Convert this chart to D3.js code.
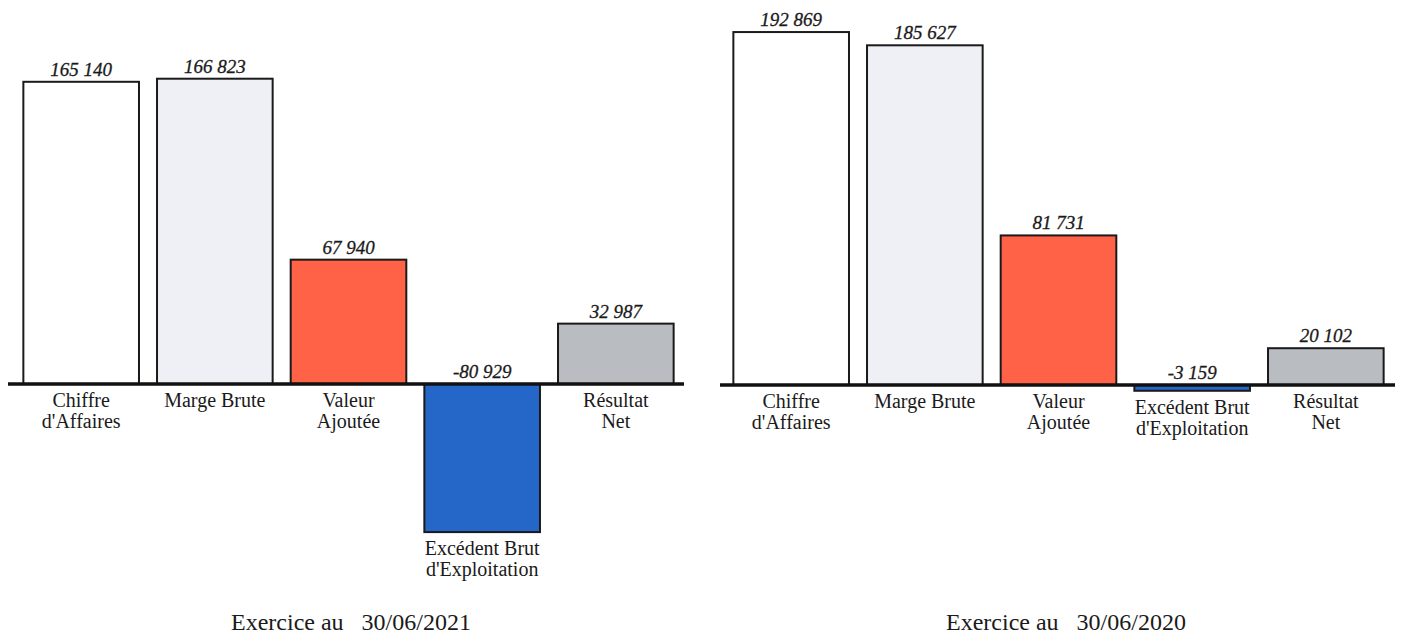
<!DOCTYPE html>
<html>
<head>
<meta charset="utf-8">
<script src="https://cdn.jsdelivr.net/npm/d3@7"></script>
<style>
  body { margin: 0; background: #fff; }
  text { font-family: "Liberation Serif", "Times New Roman", serif; fill: #1a1a1a; }
</style>
</head>
<body>
<script>
// categories (two lines each)
var categories = [
  ["Chiffre", "d'Affaires"],
  ["Marge Brute"],
  ["Valeur", "Ajoutée"],
  ["Excédent Brut", "d'Exploitation"],
  ["Résultat", "Net"]
];
var values2021 = [165140, 166823, 67940, -80929, 32987];
var values2020 = [192869, 185627, 81731, -3159, 20102];
var valueLabels2021 = ["165 140", "166 823", "67 940", "-80 929", "32 987"];
var valueLabels2020 = ["192 869", "185 627", "81 731", "-3 159", "20 102"];
var barColors = ["#ffffff", "#eef0f6", "#ff6247", "#2567c9", "#b9bcc1"];
var titles = ["Exercice au   30/06/2021", "Exercice au   30/06/2020"];

var width = 1401, height = 637;

var svg = d3.select("body").append("svg")
    .attr("width", width)
    .attr("height", height);

// same vertical scale for both panels
var y = d3.scaleLinear()
    .domain([-100000, 200000])
    .range([567, 18]);

function drawPanel(values, labels, xRange, axisExt, dy, title, titleX) {
  var g = svg.append("g")
      .attr("transform", "translate(0," + dy + ")");

  var x = d3.scaleBand()
      .domain(d3.range(categories.length))
      .range(xRange)
      .paddingInner(0.135)
      .paddingOuter(0.085);

  // bars
  g.selectAll("rect.bar")
    .data(values)
    .enter().append("rect")
      .attr("class", "bar")
      .attr("x", function(d, i) { return x(i); })
      .attr("y", function(d) { return y(Math.max(d, 0)); })
      .attr("width", x.bandwidth())
      .attr("height", function(d) { return Math.abs(y(d) - y(0)); })
      .attr("fill", function(d, i) { return barColors[i]; })
      .attr("stroke", "#1a1a1a")
      .attr("stroke-width", 2);

  // zero line
  g.append("line")
      .attr("x1", axisExt[0])
      .attr("x2", axisExt[1])
      .attr("y1", y(0))
      .attr("y2", y(0))
      .attr("stroke", "#111")
      .attr("stroke-width", 3.5);

  // values above bars
  g.selectAll("text.val")
    .data(values)
    .enter().append("text")
      .attr("class", "val")
      .attr("x", function(d, i) { return x(i) + x.bandwidth() / 2; })
      .attr("y", function(d) { return y(Math.max(d, 0)) - 6; })
      .attr("text-anchor", "middle")
      .style("font-size", "19px")
      .style("font-style", "italic")
      .style("stroke", "#1a1a1a")
      .style("stroke-width", 0.3)
      .text(function(d, i) { return labels[i]; });

  // category labels under bar / baseline
  var cat = g.selectAll("text.cat")
    .data(values)
    .enter().append("text")
      .attr("class", "cat")
      .attr("text-anchor", "middle")
      .attr("y", function(d) { return y(Math.min(d, 0)) + 23; })
      .style("font-size", "20px");

  cat.selectAll("tspan")
    .data(function(d, i) {
      return categories[i].map(function(s) { return {s: s, cx: x(i) + x.bandwidth() / 2}; });
    })
    .enter().append("tspan")
      .attr("x", function(d) { return d.cx; })
      .attr("dy", function(d, j) { return j === 0 ? 0 : 21; })
      .text(function(d) { return d.s; });

  svg.append("text")
      .attr("x", titleX)
      .attr("y", 630)
      .attr("text-anchor", "middle")
      .attr("xml:space", "preserve")
      .style("white-space", "pre")
      .style("font-size", "24px")
      .text(title);
}

drawPanel(values2021, valueLabels2021, [12, 685], [8, 684], 0, titles[0], 351);
drawPanel(values2020, valueLabels2020, [722, 1395], [720, 1395], 1, titles[1], 1066);
</script>
</body>
</html>
